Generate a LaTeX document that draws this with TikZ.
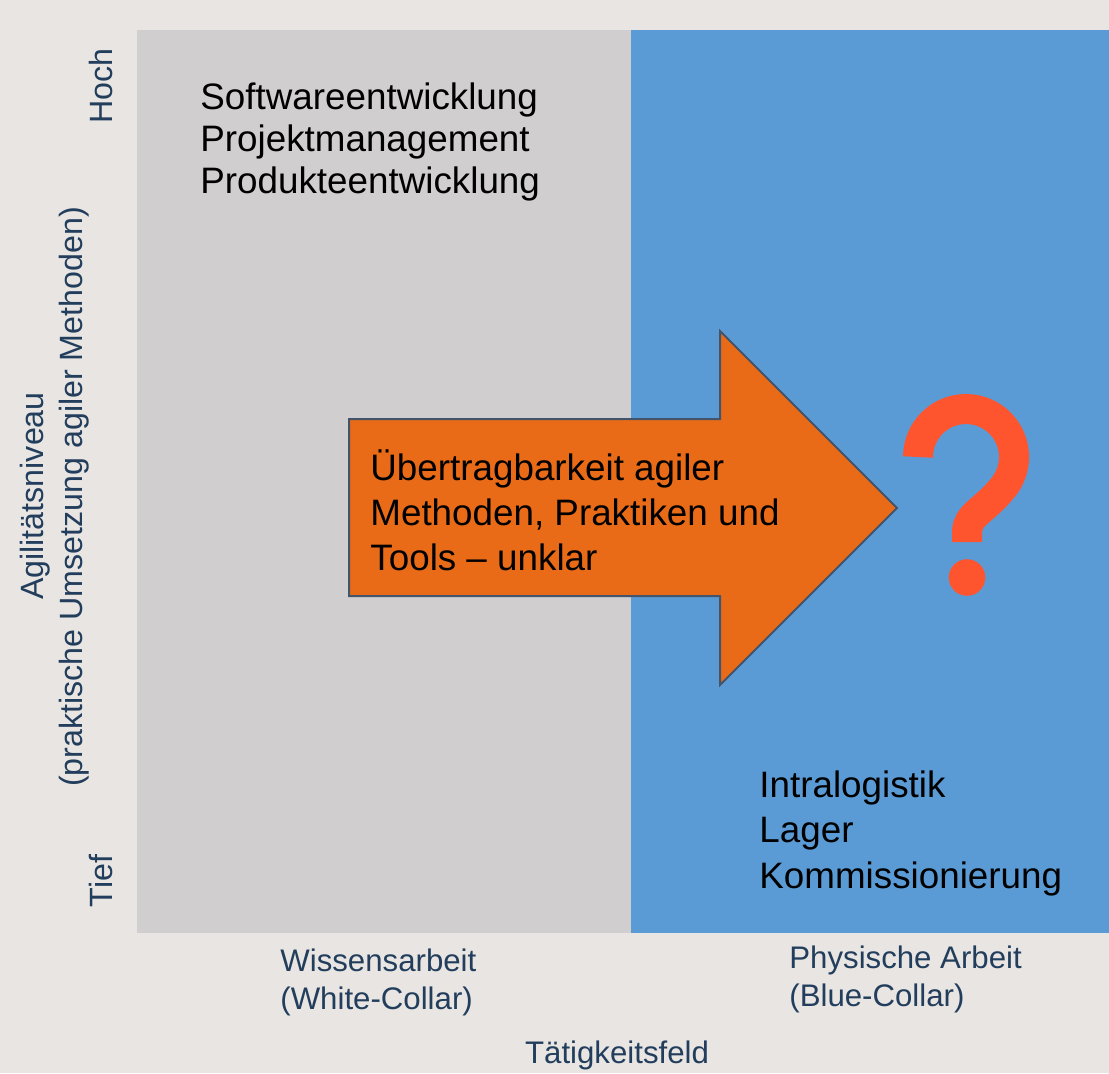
\documentclass[tikz,border=0pt]{standalone}
\usepackage{fontspec}
\setmainfont{Liberation Sans}
\definecolor{bgc}{HTML}{E8E5E2}
\definecolor{grayband}{HTML}{D0CECE}
\definecolor{blueband}{HTML}{5B9BD5}
\definecolor{arrowfill}{HTML}{E96B17}
\definecolor{arrowline}{HTML}{44546A}
\definecolor{qcol}{HTML}{FF552E}
\definecolor{axiscol}{HTML}{223E5C}
\begin{document}
\begin{tikzpicture}[x=0.5pt,y=-0.5pt,
  bodytext/.style={inner sep=0pt,anchor=base west,font=\fontsize{18.4}{22}\selectfont,text=black},
  axistext/.style={inner sep=0pt,anchor=base west,font=\fontsize{15.6}{19}\selectfont,text=axiscol},
  rottext/.style={inner sep=0pt,anchor=base,rotate=90,font=\fontsize{16.1}{19}\selectfont,text=axiscol},
  arrowshape/.style={fill=arrowfill,draw=arrowline,line width=1pt,line join=miter}]
\useasboundingbox (0,0) rectangle (1109,1073);
\fill[bgc] (0,0) rectangle (1109,1073);
% bands
\fill[grayband] (137,30) rectangle (631,933);
\fill[blueband] (631,30) rectangle (1109,933);
% arrow
\draw[arrowshape] (349,419) -- (720,419) -- (720,331) -- (897,508) -- (720,685) -- (720,596) -- (349,596) -- cycle;
\node[bodytext] (a1) at (370,480) {Übertragbarkeit agiler};
\node[bodytext] (a2) at (370,525) {Methoden, Praktiken und};
\node[bodytext] (a3) at (370,570) {Tools – unklar};
% question mark
\draw[qcol,line width=15pt,line cap=butt] (918,457) arc[start angle=180,end angle=400,radius=48]
  .. controls (984,511) and (967,515) .. (967,532) -- (967,542);
\fill[qcol] (967,577.5) circle[radius=18.3];
% top-left texts
\node[bodytext] (t1) at (200,109) {Softwareentwicklung};
\node[bodytext] (t2) at (200,151) {Projektmanagement};
\node[bodytext] (t3) at (200,193) {Produkteentwicklung};
% bottom-right texts
\node[bodytext] (b1) at (759,797) {Intralogistik};
\node[bodytext] (b2) at (759,842) {Lager};
\node[bodytext] (b3) at (759,888) {Kommissionierung};
% axis labels
\node[rottext] (hoch) at (112,86) {Hoch};
\node[rottext] (tief) at (112,881) {Tief};
\node[rottext] (agil) at (43,496) {Agilitätsniveau};
\node[rottext] (prakt) at (82,497) {(praktische Umsetzung agiler Methoden)};
\node[axistext] (w1) at (280,971) {Wissensarbeit};
\node[axistext] (w2) at (280,1009) {(White-Collar)};
\node[axistext] (p1) at (789,968) {Physische Arbeit};
\node[axistext] (p2) at (789,1006) {(Blue-Collar)};
\node[inner sep=0pt,anchor=base,font=\fontsize{15.6}{19}\selectfont,text=axiscol] (tf) at (617,1063) {Tätigkeitsfeld};
\end{tikzpicture}
\end{document}
